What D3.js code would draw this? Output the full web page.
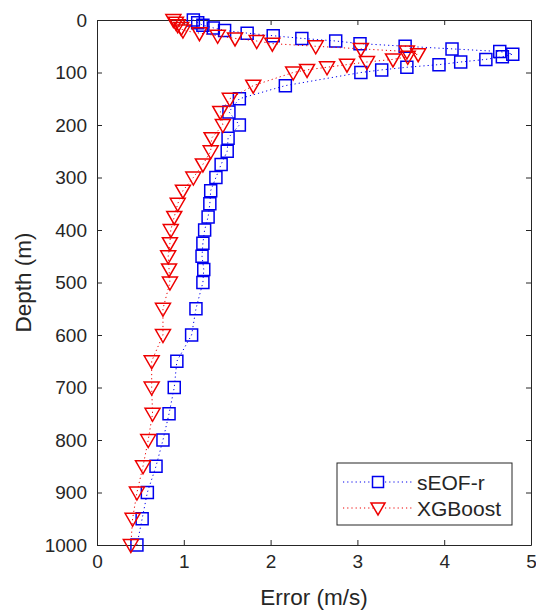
<!DOCTYPE html>
<html>
<head>
<meta charset="utf-8">
<script src="https://cdn.jsdelivr.net/npm/d3@7"></script>
<style>
  html, body { margin: 0; padding: 0; background: #fff; }
  svg { display: block; }
  text { font-family: "Liberation Sans", Arial, Helvetica, sans-serif; fill: #262626; }
</style>
</head>
<body>
<svg id="chart" width="536" height="612"></svg>
<script>
// Depth levels (m)
const depths = [0, 5, 10, 15, 20, 25, 30, 35, 40, 45, 50, 55, 60, 65, 70, 75, 80, 85, 90, 95, 100,
  125, 150, 175, 200, 225, 250, 275, 300, 325, 350, 375, 400, 425, 450, 475, 500,
  550, 600, 650, 700, 750, 800, 850, 900, 950, 1000];

// Error (m/s) of each method at each depth level
const seofErrors = [1.11, 1.16, 1.22, 1.34, 1.47, 1.73, 2.03, 2.36, 2.75, 3.03, 3.55, 4.09, 4.64, 4.79, 4.67, 4.48, 4.19, 3.94, 3.57, 3.28, 3.04,
  2.17, 1.64, 1.52, 1.64, 1.51, 1.50, 1.43, 1.37, 1.31, 1.30, 1.28, 1.24, 1.22, 1.21, 1.23, 1.22,
  1.14, 1.09, 0.92, 0.89, 0.83, 0.76, 0.68, 0.58, 0.52, 0.46];

const xgbErrors = [0.88, 0.91, 0.93, 0.97, 0.99, 1.18, 1.39, 1.59, 1.84, 2.02, 2.52, 3.04, 3.57, 3.70, 3.58, 3.41, 3.11, 2.88, 2.65, 2.42, 2.26,
  1.80, 1.53, 1.42, 1.45, 1.32, 1.31, 1.22, 1.11, 0.99, 0.93, 0.89, 0.85, 0.84, 0.82, 0.83, 0.84,
  0.76, 0.76, 0.63, 0.63, 0.64, 0.59, 0.53, 0.46, 0.41, 0.39];

const seriesNames = ["sEOF-r", "XGBoost"];
const xTicks = [0, 1, 2, 3, 4, 5];
const yTicks = [0, 100, 200, 300, 400, 500, 600, 700, 800, 900, 1000];

const colors = { "sEOF-r": "#0000ee", "XGBoost": "#ee0000" };
const axisColor = "#262626";

const margin = { left: 97, right: 5, top: 20, bottom: 67 };
const W = 536, H = 612;
const plotW = W - margin.left - margin.right;
const plotH = H - margin.top - margin.bottom;

const svg = d3.select("#chart");
const g = svg.append("g").attr("transform", `translate(${margin.left},${margin.top})`);

const x = d3.scaleLinear().domain([0, 5]).range([0, plotW]);
const y = d3.scaleLinear().domain([0, 1000]).range([0, plotH]);

const tickFont = "19px";
const tickLen = 5;

// Axes: ticks pointing inward, box on all four sides
const xAxisBottom = d3.axisBottom(x).tickValues(xTicks).tickSizeInner(-tickLen).tickSizeOuter(0).tickPadding(10).tickFormat(d3.format("d"));
const xAxisTop = d3.axisTop(x).tickValues(xTicks).tickSizeInner(-tickLen).tickSizeOuter(0).tickFormat("");
const yAxisLeft = d3.axisLeft(y).tickValues(yTicks).tickSizeInner(-tickLen).tickSizeOuter(0).tickPadding(10).tickFormat(d3.format("d"));
const yAxisRight = d3.axisRight(y).tickValues(yTicks).tickSizeInner(-tickLen).tickSizeOuter(0).tickFormat("");

function styleAxis(sel) {
  sel.select(".domain").attr("stroke", axisColor).attr("stroke-width", 1);
  sel.selectAll(".tick line").attr("stroke", axisColor).attr("stroke-width", 1);
  sel.selectAll(".tick text").attr("fill", axisColor).style("font-size", tickFont)
    .style("font-family", '"Liberation Sans", Arial, sans-serif');
}

g.append("g").attr("transform", `translate(0,${plotH})`).call(xAxisBottom).call(styleAxis);
g.append("g").call(xAxisTop).call(styleAxis);
g.append("g").call(yAxisLeft).call(styleAxis);
g.append("g").attr("transform", `translate(${plotW},0)`).call(yAxisRight).call(styleAxis);

// Axis titles
svg.append("text")
  .attr("x", margin.left + plotW / 2 + 0)
  .attr("y", 605)
  .attr("text-anchor", "middle")
  .style("font-size", "22.5px")
  .text("Error (m/s)");

svg.append("text")
  .attr("transform", `translate(31,${margin.top + plotH / 2}) rotate(-90)`)
  .attr("text-anchor", "middle")
  .style("font-size", "22.5px")
  .text("Depth (m)");

// Marker shapes
const squarePath = "M-6,-6L6,-6L6,6L-6,6Z";
const trianglePath = "M-7.5,-5.5L7.5,-5.5L0,7.5Z";
const legendSquare = "M-5.5,-5.5L5.5,-5.5L5.5,5.5L-5.5,5.5Z";
const legendTriangle = "M-7,-5L7,-5L0,7Z";

const series = [
  { name: "sEOF-r", values: seofErrors, marker: squarePath, legendMarker: legendSquare },
  { name: "XGBoost", values: xgbErrors, marker: trianglePath, legendMarker: legendTriangle }
];

const line = d3.line()
  .x(d => x(d.err))
  .y(d => y(d.depth));

series.forEach(s => {
  const pts = depths.map((dep, i) => ({ depth: dep, err: s.values[i] }));
  const sg = g.append("g");
  sg.append("path")
    .datum(pts)
    .attr("d", line)
    .attr("fill", "none")
    .attr("stroke", colors[s.name])
    .attr("stroke-width", 1)
    .attr("stroke-dasharray", "1.2,3");
  sg.selectAll("path.mk")
    .data(pts)
    .join("path")
    .attr("class", "mk")
    .attr("transform", d => `translate(${x(d.err)},${y(d.depth)})`)
    .attr("d", s.marker)
    .attr("fill", "none")
    .attr("stroke", colors[s.name])
    .attr("stroke-width", 1.5);
});

// Legend
const lg = svg.append("g").attr("transform", "translate(337,463)");
lg.append("rect")
  .attr("width", 175).attr("height", 62)
  .attr("fill", "#fff")
  .attr("stroke", axisColor)
  .attr("stroke-width", 1);

series.forEach((s, i) => {
  const cy = 19 + i * 26;
  lg.append("line")
    .attr("x1", 6).attr("x2", 76)
    .attr("y1", cy).attr("y2", cy)
    .attr("stroke", colors[s.name])
    .attr("stroke-width", 1)
    .attr("stroke-dasharray", "1.2,3");
  lg.append("path")
    .attr("transform", `translate(41,${cy})`)
    .attr("d", s.legendMarker)
    .attr("fill", "#fff")
    .attr("stroke", colors[s.name])
    .attr("stroke-width", 1.5);
  lg.append("text")
    .attr("x", 80).attr("y", cy)
    .attr("dy", "0.36em")
    .style("font-size", "21px")
    .text(s.name);
});
</script>
</body>
</html>
